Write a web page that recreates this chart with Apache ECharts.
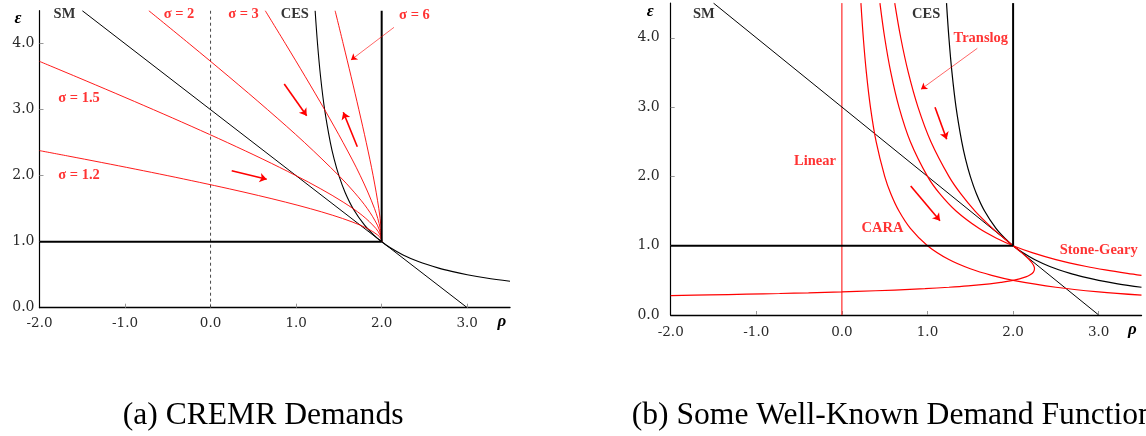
<!DOCTYPE html>
<html><head><meta charset="utf-8">
<script src="https://cdn.jsdelivr.net/npm/echarts@6.0.0/dist/echarts.min.js"></script>
<style>html,body{margin:0;padding:0;background:#fff}#c{width:1146px;height:436px}</style>
</head><body><div id="c"></div>
<script>
// ---------- tick values ----------
const xTickLabels = [-2, -1, 0, 1, 2, 3];
const yTickLabels = [0, 1, 2, 3, 4];
const xTickMarks = [-1, 0, 1, 2, 3];
const yTickMarks = [1, 2, 3, 4];

// ---------- shared curves (rho, epsilon) ----------
const smLine = [[-1.5, 4.5], [3, 0]];
const cesCurve = [[1.2222,4.5],[1.25,4],[1.2857,3.5],[1.3333,3],[1.4,2.5],[1.4444,2.25],[1.5,2],[1.5714,1.75],[1.6667,1.5],[1.8,1.25],[1.9091,1.1],[2,1],[2.1111,0.9],[2.25,0.8],[2.4286,0.7],[2.6667,0.6],[2.8182,0.55],[3,0.5],[3.2222,0.45],[3.5,0.4]];
const cdHorizontal = [[-2, 1], [2, 1]];
const cdVertical = [[2, 1], [2, 4.5]];

// ---------- panel (a): CREMR demands ----------
const zeroDashed = [[0, 0], [0, 4.5]];
const cremr12 = [[2,1],[1.9881,1.05],[1.9545,1.1],[1.8333,1.2],[1.6538,1.3],[1.4286,1.4],[1.1667,1.5],[0.875,1.6],[0.5588,1.7],[0.2222,1.8],[-0.1316,1.9],[-0.5,2.0],[-0.881,2.1],[-1.2727,2.2],[-1.6739,2.3],[-2,2.38]];
const cremr15 = [[2,1],[1.9952,1.05],[1.9818,1.1],[1.9333,1.2],[1.7714,1.4],[1.55,1.6],[1.2889,1.8],[1,2],[0.6111,2.25],[0.2,2.5],[-0.2273,2.75],[-0.6667,3],[-1.1154,3.25],[-1.5714,3.5],[-2,3.732]];
const cremr2 = [[2,1],[1.9909,1.1],[1.95,1.25],[1.8333,1.5],[1.6786,1.75],[1.5,2],[1.1,2.5],[0.6667,3],[0.2143,3.5],[-0.25,4],[-0.7222,4.5]];
const cremr3 = [[2,1],[1.9833,1.2],[1.9167,1.5],[1.75,2],[1.55,2.5],[1.3333,3],[1.1071,3.5],[0.875,4],[0.6389,4.5]];
const cremr6 = [[2,1],[1.9933,1.2],[1.9667,1.5],[1.9,2],[1.82,2.5],[1.7333,3],[1.6429,3.5],[1.55,4],[1.4556,4.5]];
const arrowsA = [[[0.247,2.076],[0.656,1.945]], [[0.861,3.389],[1.123,2.909]], [[1.715,2.439],[1.551,2.961]]];
const pointerA = [[[2.144,4.248],[1.641,3.753]]];
const labelsA = [
  {text:'SM', kind:'black', at:[-1.708,4.45]},
  {text:'σ = 2', kind:'red', at:[-0.369,4.445]},
  {text:'σ = 3', kind:'red', at:[0.385,4.445]},
  {text:'CES', kind:'black', at:[0.984,4.445]},
  {text:'σ = 6', kind:'red', at:[2.383,4.43]},
  {text:'σ = 1.5', kind:'red', at:[-1.538,3.177]},
  {text:'σ = 1.2', kind:'red', at:[-1.538,2.01]}
];

// ---------- panel (b): well-known demands ----------
const linearLine = [[0, 0], [0, 4.5]];
const caraCurve = [[0.2222,4.5],[0.25,4],[0.2857,3.5],[0.3333,3],[0.4,2.5],[0.5,2],[0.5714,1.75],[0.6667,1.5],[0.8,1.25],[1,1],[1.25,0.8],[1.5,0.6667],[1.75,0.5714],[2,0.5],[2.5,0.4],[3,0.3333],[3.5,0.2857]];
const stoneGearyCurve = [[0.4444,4.5],[0.5,4],[0.5714,3.5],[0.6667,3],[0.8,2.5],[1,2],[1.1429,1.75],[1.3333,1.5],[1.6,1.25],[1.8182,1.1],[2,1],[2.2222,0.9],[2.5,0.8],[2.8571,0.7],[3.0769,0.65],[3.3333,0.6],[3.5,0.5714]];
const translogCurve = [[0.6173,4.5],[0.6875,4],[0.7755,3.5],[0.8889,3],[1.04,2.5],[1.25,2],[1.3878,1.75],[1.5556,1.5],[1.76,1.25],[1.9008,1.1],[2,1],[2.0988,0.9],[2.1875,0.8],[2.2222,0.75],[2.2449,0.7],[2.25,0.6667],[2.2373,0.62],[2.1998,0.58],[2.1488,0.55],[2.0,0.5],[1.8561,0.47],[1.7284,0.45],[1.4739,0.42],[1.25,0.4],[0.9695,0.38],[0.6173,0.36],[0.173,0.34],[0,0.3333],[-0.3906,0.32],[-0.7284,0.31],[-1.1111,0.30],[-1.5458,0.29],[-2,0.2808]];
const arrowsB = [[[1.088,2.997],[1.224,2.535]], [[0.804,1.861],[1.146,1.361]]];
const pointerB = [[[1.582,3.848],[0.924,3.257]]];
const labelsB = [
  {text:'SM', kind:'black', at:[-1.613,4.339]},
  {text:'CES', kind:'black', at:[0.985,4.339]},
  {text:'Translog', kind:'red', at:[1.623,3.993]},
  {text:'Linear', kind:'red', at:[-0.314,2.212]},
  {text:'CARA', kind:'red', at:[0.474,1.245]},
  {text:'Stone-Geary', kind:'red', at:[3.0,0.931]}
];

// ---------- build ----------
const RED = '#ff0000';
const SERIF = '"Liberation Serif", "Times New Roman", serif';
function line(data, g, color, width, opts) {
  opts = opts || {};
  return {type:'line', xAxisIndex:g, yAxisIndex:g, data:data, showSymbol:false, symbol:'none',
    smooth: opts.smooth ? 0.35 : false, silent:true, z: opts.z || 2,
    lineStyle:{color:color, width:width, type: opts.dash || 'solid'}};
}
function arrows(list, g, width, size) {
  return {type:'lines', coordinateSystem:'cartesian2d', xAxisIndex:g, yAxisIndex:g, silent:true, z:4,
    symbol:['none','arrow'], symbolSize:size,
    lineStyle:{color:RED, width:width, opacity:1, curveness:0},
    data:list.map(c => ({coords:c}))};
}
function labels(list, g) {
  return {type:'scatter', xAxisIndex:g, yAxisIndex:g, symbolSize:0, silent:true, z:5,
    data:list.map(l => ({value:l.at, name:l.text,
      label:{show:true, position:'inside', formatter:'{b}', color: l.kind==='red'?RED:'#000',
        fontFamily:SERIF, fontWeight:'bold', fontSize:14.5}}))};
}
function xAxis(g, margin, gap, pad) {
  return {type:'value', gridIndex:g, min:-2, max:3.5, interval:1,
    name:'ρ', nameLocation:'end', nameGap:gap,
    nameTextStyle:{fontFamily:SERIF, fontStyle:'italic', fontWeight:'bold', fontSize:17, color:'#000',
      align:'center', verticalAlign:'top', padding:[pad,0,0,0]},
    axisLine:{show:true, onZero:false, lineStyle:{color:'#000', width:1.3}},
    axisTick:{show:true, inside:true, length:4, customValues:xTickMarks, lineStyle:{color:'#999', width:1}},
    axisLabel:{customValues:xTickLabels, formatter:v => v.toFixed(1), color:'#2a2a2a', fontFamily:'"DejaVu Serif", serif', fontSize:13.5, margin:margin},
    splitLine:{show:false}};
}
function yAxis(g, margin, gap, padR) {
  return {type:'value', gridIndex:g, min:0, max:4.5, interval:1,
    name:'ε', nameLocation:'end', nameGap:gap,
    nameTextStyle:{fontFamily:SERIF, fontStyle:'italic', fontWeight:'bold', fontSize:17, color:'#000',
      align:'right', verticalAlign:'middle', padding:[0,padR,0,0]},
    axisLine:{show:true, onZero:false, lineStyle:{color:'#000', width:1.2}},
    axisTick:{show:true, inside:true, length:4, customValues:yTickMarks, lineStyle:{color:'#999', width:1}},
    axisLabel:{customValues:yTickLabels, formatter:v => v.toFixed(1), color:'#2a2a2a', fontFamily:'"DejaVu Serif", serif', fontSize:14, margin:margin},
    splitLine:{show:false}};
}

const series = [
  // panel a
  line(zeroDashed, 0, '#333', 0.9, {dash:[3,3]}),
  line(cdHorizontal, 0, '#000', 2, {z:3}),
  line(cdVertical, 0, '#000', 2, {z:3}),
  line(smLine, 0, '#000', 1),
  line(cesCurve, 0, '#000', 1.1, {smooth:true}),
  line(cremr12, 0, RED, 0.9, {smooth:true}),
  line(cremr15, 0, RED, 0.9, {smooth:true}),
  line(cremr2, 0, RED, 0.9, {smooth:true}),
  line(cremr3, 0, RED, 0.9, {smooth:true}),
  line(cremr6, 0, RED, 0.9, {smooth:true}),
  arrows(arrowsA, 0, 1.6, [0, 7]),
  arrows(pointerA, 0, 0.6, [0, 6]),
  labels(labelsA, 0),
  // panel b
  line(cdHorizontal, 1, '#000', 2, {z:3}),
  line(cdVertical, 1, '#000', 2, {z:3}),
  line(linearLine, 1, RED, 1),
  line(smLine, 1, '#000', 1),
  line(cesCurve, 1, '#000', 1.2, {smooth:true}),
  line(caraCurve, 1, RED, 1.2, {smooth:true}),
  line(stoneGearyCurve, 1, RED, 1.2, {smooth:true}),
  line(translogCurve, 1, RED, 1.2, {smooth:true}),
  arrows(arrowsB, 1, 1.6, [0, 7]),
  arrows(pointerB, 1, 0.6, [0, 6]),
  labels(labelsB, 1)
];

const chart = echarts.init(document.getElementById('c'), null, {renderer:'canvas'});
chart.setOption({
  animation:false,
  backgroundColor:'#fff',
  grid:[
    {left:39.5, top:10.7, width:470.5, height:297, containLabel:false},
    {left:670.7, top:3.1, width:470.8, height:311.9, containLabel:false}
  ],
  xAxis:[xAxis(0, 9, -8, 5), xAxis(1, 10, -9, 6)],
  yAxis:[yAxis(0, 5, -8, 18), yAxis(1, 11, -8.4, 17)],
  series:series,
  graphic:[
    {type:'text', left:122.7, top:400, silent:true,
      style:{text:'(a) CREMR Demands', fill:'#000', font:'31.6px ' + SERIF}},
    {type:'text', left:631.7, top:400, silent:true,
      style:{text:'(b) Some Well-Known Demand Functions', fill:'#000', font:'31.6px ' + SERIF}}
  ]
});
</script>
</body></html>
